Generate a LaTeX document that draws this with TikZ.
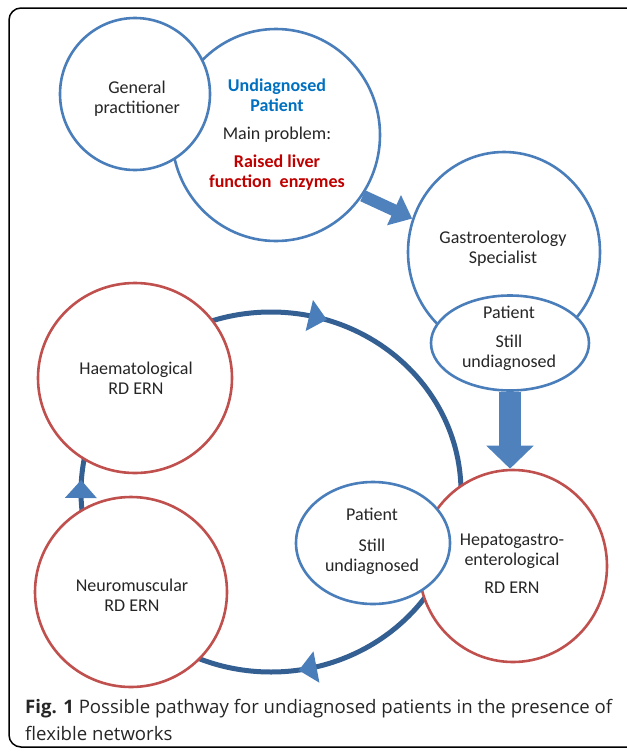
\documentclass[tikz,border=0pt]{standalone}
\usepackage{fontspec}
\setmainfont{Carlito}
\newfontfamily\capfont{Open Sans}
\usetikzlibrary{shapes.geometric,arrows.meta,decorations.markings}
\definecolor{eblue}{HTML}{4A7EBB}
\definecolor{ered}{HTML}{C0504D}
\definecolor{cyc}{HTML}{345F93}
\definecolor{ablue}{HTML}{4F81BD}
\definecolor{tblue}{HTML}{0070C0}
\definecolor{tred}{HTML}{C00000}
\begin{document}
\begin{tikzpicture}[x=1pt,y=-1pt,
  bub/.style={ellipse, draw=eblue, line width=2.6pt, fill=white, inner sep=0pt},
  rbub/.style={bub, draw=ered},
  txt/.style={align=center, font=\fontsize{18}{20}\selectfont, inner sep=0pt, text=black!85},
  blockarrow/.style={draw=ablue, line width=12pt, -{Triangle[length=20pt,width=32pt]}},
  bigarrow/.style={draw=ablue, line width=22pt, -{Triangle[length=23pt,width=46pt]}},
  arrowtri/.style={fill=eblue},
  cycle line/.style={draw=cyc, line width=5pt},
  capt/.style={anchor=base west, inner sep=0pt, font=\capfont\fontsize{18.6}{27}\selectfont, text=black!85}
]
\useasboundingbox (0,0) rectangle (627,753);
\begin{scope}
  \clip (0,0) rectangle (627,753);
  \draw[line width=1.5pt, rounded corners=12pt] (9,8) rectangle (640,747);
\end{scope}

% cycle of networks
\path[cycle line, postaction={decorate}, decoration={markings,
   mark=at position 0.2175 with {\fill[arrowtri] (10pt,0pt) -- (-8pt,16pt) -- (-8pt,-16pt) -- cycle;},
   mark=at position 0.5017 with {\fill[arrowtri] (10pt,0pt) -- (-8pt,16pt) -- (-8pt,-16pt) -- cycle;},
   mark=at position 0.79 with {\fill[arrowtri] (10pt,0pt) -- (-8pt,16pt) -- (-8pt,-16pt) -- cycle;}}]
   (271,492) ellipse [x radius=190, y radius=180];

% top group
\node[bub, minimum width=208pt, minimum height=212pt] (pat) at (276,135) {};
\node[bub, minimum width=150pt, minimum height=152pt] (gp) at (135,94) {};
\node[bub, minimum width=192pt, minimum height=200pt] (gas) at (504,252) {};
\node[bub, minimum width=158pt, minimum height=95pt] (gaspat) at (510,343) {};

% red networks
\node[rbub, minimum width=194pt, minimum height=190pt] (hae) at (135,378) {};
\node[rbub, minimum width=192pt, minimum height=190pt] (neu) at (131,592) {};
\node[rbub, minimum width=188pt, minimum height=192pt] (hep) at (513,566) {};
\node[bub, minimum width=154pt, minimum height=122pt] (pat2) at (373,543) {};

% block arrows
\draw[blockarrow] (pat.-35) -- (gas.160);
\draw[bigarrow] (gaspat.south) -- (gaspat.south |- hep.north);

% texts
\node[txt] (gpt) at (137,99) {General\\practitioner};
\node[txt] (patt) at (277,135) {\textbf{\textcolor{tblue}{Undiagnosed}}\\\textbf{\textcolor{tblue}{Patient}}\\[8pt]Main problem:\\[8pt]\textbf{\textcolor{tred}{Raised liver}}\\\textbf{\textcolor{tred}{function\ \ enzymes}}};
\node[txt] (gast) at (503,249) {Gastroenterology\\Specialist};
\node[txt] (gaspatt) at (509,338) {Patient\\[9pt]Still\\undiagnosed};
\node[txt] (haet) at (136,378) {Haematological\\RD ERN};
\node[txt] (neut) at (132,595) {Neuromuscular\\RD ERN};
\node[txt] (hept) at (512,564) {Hepatogastro-\\enterological\\[8pt]RD ERN};
\node[txt] (pat2t) at (372,541) {Patient\\[11pt]Still\\undiagnosed};

% caption
\node[capt] (cap1) at (25,713) {\textbf{Fig. 1} Possible pathway for undiagnosed patients in the presence of};
\node[capt] (cap2) at (25,740) {flexible networks};
\end{tikzpicture}
\end{document}
